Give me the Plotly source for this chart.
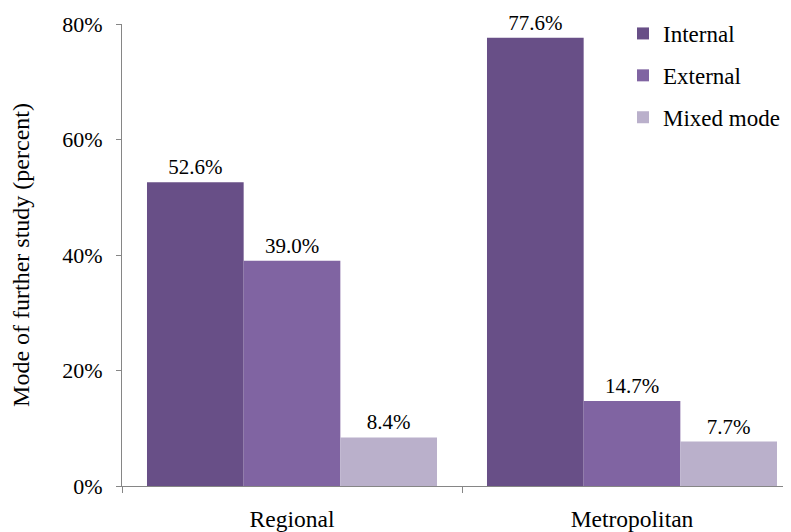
import plotly.graph_objects as go

categories = ["Regional", "Metropolitan"]
series_names = ["Internal", "External", "Mixed mode"]
internal = [52.6, 77.6]
external = [39.0, 14.7]
mixed = [8.4, 7.7]
colors = ["#684F87", "#8064A2", "#BAB0CB"]
y_ticks = [0, 20, 40, 60, 80]
y_tick_labels = ["0%", "20%", "40%", "60%", "80%"]

FONT = "Liberation Serif"

# page body adds an 8px offset; margins account for it
L, T, B, R = 114, 16, 54, 8
PW = 791 - L - R

fig = go.Figure()
for i, (name, vals) in enumerate(zip(series_names, [internal, external, mixed])):
    fig.add_trace(go.Bar(
        x=categories, y=vals, name=name,
        marker=dict(color=colors[i], line=dict(width=0)),
        text=[f"{v:.1f}%" for v in vals],
        textposition="outside",
        textfont=dict(family=FONT, size=21, color="#000000"),
        cliponaxis=False,
        legendgroup=name,
    ))

fig.update_layout(
    width=791, height=532,
    margin=dict(l=L, r=R, t=T, b=B, autoexpand=False),
    barmode="group", bargap=0.147, bargroupgap=0,
    plot_bgcolor="white", paper_bgcolor="white",
    font=dict(family=FONT, size=22, color="#000000"),
    showlegend=True,
    legend=dict(x=(615 - L) / PW, y=1.026, xanchor="left", yanchor="top",
                font=dict(family=FONT, size=23, color="#000000"),
                tracegroupgap=9, bgcolor="rgba(0,0,0,0)"),
    xaxis=dict(range=[-0.5, -0.5 + PW / 340], showline=True, linecolor="#868686", linewidth=1,
               ticks="outside", tickson="boundaries", ticklen=6, tickcolor="#868686",
               showgrid=False, ticklabelstandoff=12, zeroline=False, automargin=False,
               tickfont=dict(family=FONT, size=23.5)),
    yaxis=dict(range=[0, 80], tickvals=y_ticks, ticktext=y_tick_labels,
               showline=True, linecolor="#868686", linewidth=1,
               ticks="outside", ticklen=5, tickcolor="#868686",
               showgrid=False, zeroline=False, ticklabelstandoff=9, automargin=False,
               tickfont=dict(family=FONT, size=22),
               title=dict(text="Mode of further study (percent)", standoff=30,
                          font=dict(family=FONT, size=24))),
)

fig.write_html("out.html")
